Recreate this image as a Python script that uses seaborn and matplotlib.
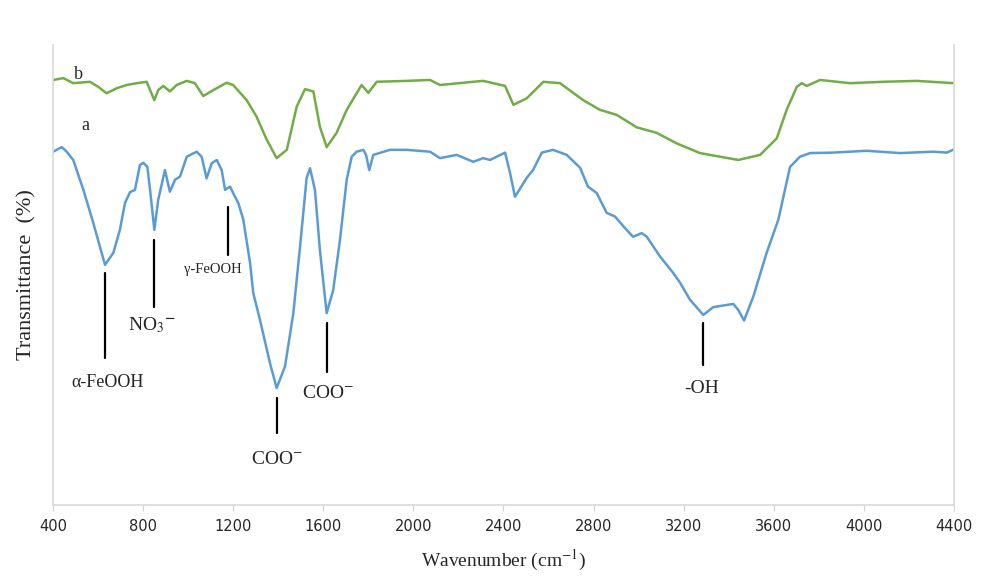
import numpy as np
import pandas as pd
import seaborn as sns
import matplotlib.pyplot as plt

# ---- data (wavenumber cm-1, transmittance a.u.) ----
wn_a = [401, 439, 461, 490, 535, 579, 631, 668, 697, 720, 742, 764, 786, 801, 819, 831,
        850, 867, 897, 919, 942, 964, 994, 1038, 1060, 1082, 1105, 1127, 1149, 1164, 1186,
        1200, 1223, 1245, 1275, 1289, 1319, 1363, 1393, 1430, 1467, 1497, 1526, 1541, 1563,
        1585, 1615, 1644, 1674, 1704, 1726, 1748, 1778, 1790, 1804, 1822, 1896, 1970, 2074,
        2118, 2192, 2266, 2310, 2340, 2407, 2429, 2451, 2503, 2531, 2570, 2620, 2681, 2740,
        2775, 2814, 2858, 2895, 2939, 2975, 3014, 3036, 3095, 3154, 3184, 3228, 3287, 3331,
        3420, 3442, 3468, 3509, 3568, 3620, 3672, 3716, 3761, 3863, 4012, 4160, 4307, 4368, 4400]
t_a = [76.8, 77.8, 76.8, 75.0, 68.5, 61.3, 52.2, 54.8, 59.8, 65.7, 68.0, 68.5, 73.9, 74.4, 73.5, 68.5,
       59.8, 66.3, 72.8, 68.1, 70.7, 71.4, 75.7, 76.8, 75.7, 71.0, 74.3, 75.0, 72.8, 68.5, 69.2,
       67.8, 65.6, 62.0, 52.6, 46.1, 40.2, 30.9, 25.4, 30.1, 41.7, 56.2, 71.1, 73.2, 68.5,
       55.4, 41.7, 46.7, 57.6, 70.7, 75.7, 76.8, 77.2, 76.1, 72.8, 76.1, 77.2, 77.2, 76.8,
       75.4, 76.1, 74.6, 75.4, 75.0, 76.6, 72.2, 67.0, 71.1, 72.8, 76.6, 77.2, 76.1, 73.3,
       69.2, 67.8, 63.5, 62.7, 60.2, 58.3, 59.1, 58.3, 54.0, 50.4, 48.3, 44.6, 41.3, 43.0,
       43.7, 42.4, 40.1, 45.3, 54.8, 62.0, 73.5, 75.7, 76.5, 76.6, 77.0, 76.5, 76.8, 76.6, 77.3]

wn_b = [401, 446, 490, 564, 601, 638, 683, 727, 772, 816, 831, 850, 867, 890, 919, 949, 994,
        1030, 1067, 1112, 1171, 1200, 1260, 1304, 1349, 1393, 1438, 1482, 1519, 1556, 1585,
        1615, 1659, 1704, 1770, 1800, 1837, 1970, 2074, 2118, 2266, 2310, 2407, 2444, 2503,
        2577, 2651, 2754, 2828, 2903, 2991, 3080, 3169, 3272, 3442, 3539, 3613, 3657, 3702,
        3724, 3746, 3805, 3938, 4086, 4234, 4400]
t_b = [92.4, 92.8, 91.7, 92.0, 90.9, 89.5, 90.6, 91.3, 91.7, 92.0, 90.2, 88.0, 90.2, 91.1, 89.9, 91.3, 92.2,
       91.7, 88.9, 90.2, 91.8, 91.3, 88.0, 84.4, 79.4, 75.4, 77.2, 86.6, 90.4, 89.9, 82.2,
       77.8, 80.9, 85.9, 91.3, 89.6, 92.0, 92.2, 92.4, 91.3, 92.0, 92.2, 91.1, 87.0, 88.4,
       92.0, 91.7, 88.0, 85.9, 84.8, 82.1, 80.9, 78.6, 76.5, 75.0, 76.1, 79.7, 85.9, 90.9,
       91.7, 91.1, 92.4, 91.7, 92.0, 92.2, 91.7]

# peak assignments: label, wavenumber, line top, line bottom, label x, label y
peak_labels = ['α-FeOOH', r'NO$_3$$^{\mathbf{-}}$', 'γ-FeOOH', r'COO$^{\mathsf{-}}$', r'COO$^{\mathsf{-}}$', '-OH']
peak_wn = [631, 850, 1177, 1393, 1615, 3287]
line_top = [50.4, 57.6, 64.8, 23.3, 39.6, 39.6]
line_bot = [32.0, 43.0, 54.3, 15.7, 28.9, 30.4]
label_x = [644, 840, 1110, 1394, 1621, 3281]
label_y = [26.7, 39.1, 51.1, 9.8, 24.3, 25.4]
label_size = [13, 14, 10.5, 14, 14, 14]

xticks = list(range(400, 4401, 400))

df = pd.concat([
    pd.DataFrame({'wn': wn_a, 'T': t_a, 'sample': 'a'}),
    pd.DataFrame({'wn': wn_b, 'T': t_b, 'sample': 'b'}),
])

sns.set_style('white')
plt.rcParams['font.family'] = ['Liberation Serif', 'DejaVu Serif']
plt.rcParams['mathtext.fontset'] = 'stix'

fig = plt.figure(figsize=(9.81, 5.77), dpi=100)
ax = fig.add_axes([0.054, 0.125, 0.9185, 0.797])

sns.lineplot(data=df, x='wn', y='T', hue='sample', palette={'a': '#5B9BD5', 'b': '#70AD47'},
             linewidth=1.8, legend=False, ax=ax, sort=False)

for lab, x, y0, y1, lx, ly, fs in zip(peak_labels, peak_wn, line_top, line_bot, label_x, label_y, label_size):
    ax.plot([x, x], [y0, y1], color='black', lw=1.6)
    ax.text(lx, ly, lab, ha='center', va='center', fontsize=fs)

ax.text(515, 93.5, 'b', fontsize=13, ha='center', va='center')
ax.text(542, 82.6, 'a', fontsize=13, ha='center', va='center')

ax.set_xlim(400, 4400)
ax.set_ylim(0, 100)
ax.set_xticks(xticks)
ax.set_xticklabels([str(v) for v in xticks], family=['Liberation Sans Narrow', 'DejaVu Sans'], fontsize=10.5)
ax.set_yticks([])
ax.tick_params(axis='x', length=4, color='#d0d0d0', pad=6, bottom=True)
for side in ['left', 'bottom', 'right']:
    ax.spines[side].set_color('#d9d9d9')
    ax.spines[side].set_linewidth(1.2)
ax.spines['top'].set_visible(False)

ax.set_xlabel('Wavenumber (cm$^{-1}$)', fontsize=14, labelpad=10)
ax.set_ylabel('Transmittance  (%)', fontsize=16, labelpad=12)

fig.savefig('out.png', dpi=100)
